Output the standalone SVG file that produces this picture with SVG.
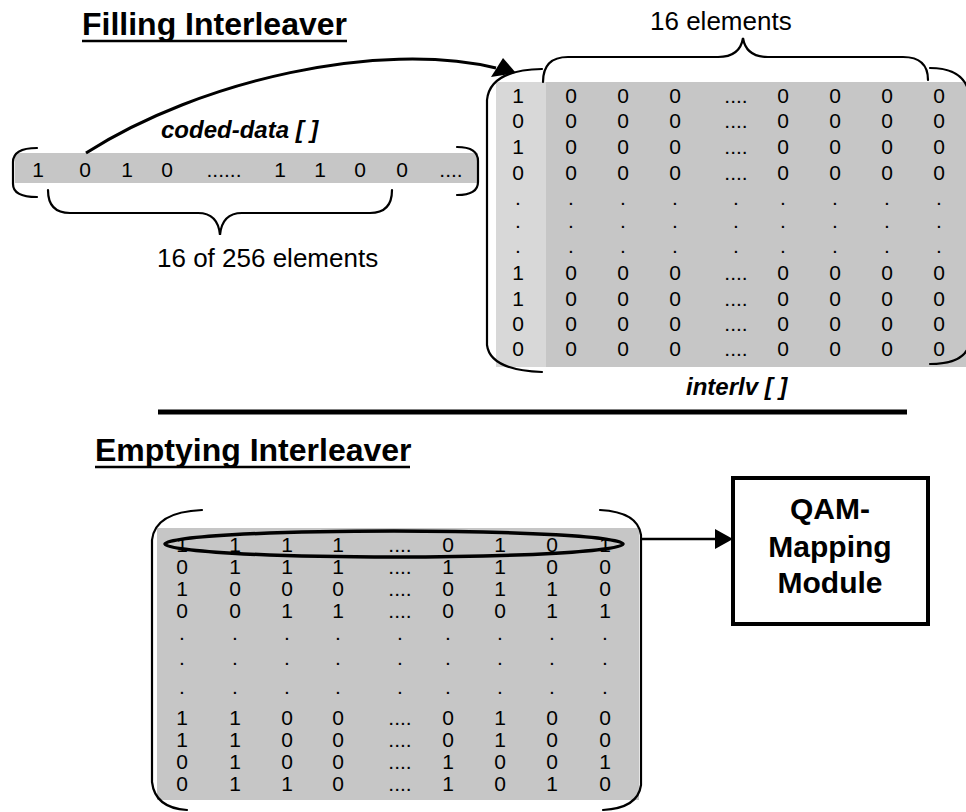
<svg xmlns="http://www.w3.org/2000/svg" width="966" height="812" viewBox="0 0 966 812">
  <style>
    .title { font-family: "Liberation Sans", Arial, sans-serif; font-weight: bold; font-size: 32px; fill: #000; }
    .label { font-family: "Liberation Sans", Arial, sans-serif; font-size: 26px; fill: #000; }
    .name { font-family: "Liberation Sans", Arial, sans-serif; font-weight: bold; font-style: italic; font-size: 24px; fill: #000; }
    .d { font-family: "Liberation Sans", Arial, sans-serif; font-size: 21px; fill: #000; text-anchor: middle; }
    .box { font-family: "Liberation Sans", Arial, sans-serif; font-weight: bold; font-size: 30px; fill: #000; text-anchor: middle; }
    .br { fill: none; stroke: #000; stroke-width: 2.2; stroke-linecap: round; }
    .ul { stroke: #000; stroke-width: 2.5; }
    .cell { fill: #c6c6c6; }
    .cell-lt { fill: #d8d8d8; }
  </style>

  <!-- section heading: filling -->
  <g id="title-filling">
    <text class="title" x="82" y="35">Filling Interleaver</text>
    <line class="ul" x1="82" y1="41" x2="347" y2="41"/>
  </g>

  <!-- one-dimensional coded data array -->
  <g id="coded-data">
    <rect class="cell" x="15" y="153" width="463" height="30"/>
    <path class="br" d="M37,148 Q13,148 13,162 L13,184 Q13,197 37,197"/>
    <path class="br" d="M457,147 Q478,147 478,161 L478,182 Q478,195 457,195"/>
    <text class="d" y="177"><tspan x="38">1</tspan><tspan x="85">0</tspan><tspan x="127">1</tspan><tspan x="167">0</tspan><tspan x="224">......</tspan><tspan x="280">1</tspan><tspan x="320">1</tspan><tspan x="360">0</tspan><tspan x="402">0</tspan><tspan x="451">....</tspan></text>
    <text class="name" x="161" y="138">coded-data [ ]</text>
  </g>

  <!-- brace grouping the first sixteen entries -->
  <g id="brace-256">
    <path class="br" d="M48,190 Q48,213 70,213 L198,213 Q218,213 220,235 Q222,213 242,213 L370,213 Q392,213 392,190"/>
    <text class="label" x="157" y="267">16 of 256 elements</text>
  </g>

  <!-- interleaver matrix while filling -->
  <g id="interlv-fill">
    <rect class="cell-lt" x="496" y="82" width="50" height="285"/>
    <rect class="cell" x="546" y="82" width="420" height="285"/>
    <path class="br" d="M542,69 Q490,70 487,100 L487,345 Q490,370 542,372"/>
    <path class="br" d="M930,68 Q968,68 970,100 L970,340 Q968,364 930,364"/>
    <text class="d" y="103"><tspan x="518">1</tspan><tspan x="571">0</tspan><tspan x="623">0</tspan><tspan x="675">0</tspan><tspan x="736">....</tspan><tspan x="783">0</tspan><tspan x="835">0</tspan><tspan x="887">0</tspan><tspan x="939">0</tspan></text>
    <text class="d" y="128"><tspan x="518">0</tspan><tspan x="571">0</tspan><tspan x="623">0</tspan><tspan x="675">0</tspan><tspan x="736">....</tspan><tspan x="783">0</tspan><tspan x="835">0</tspan><tspan x="887">0</tspan><tspan x="939">0</tspan></text>
    <text class="d" y="154"><tspan x="518">1</tspan><tspan x="571">0</tspan><tspan x="623">0</tspan><tspan x="675">0</tspan><tspan x="736">....</tspan><tspan x="783">0</tspan><tspan x="835">0</tspan><tspan x="887">0</tspan><tspan x="939">0</tspan></text>
    <text class="d" y="180"><tspan x="518">0</tspan><tspan x="571">0</tspan><tspan x="623">0</tspan><tspan x="675">0</tspan><tspan x="736">....</tspan><tspan x="783">0</tspan><tspan x="835">0</tspan><tspan x="887">0</tspan><tspan x="939">0</tspan></text>
    <text class="d" y="205"><tspan x="518">.</tspan><tspan x="571">.</tspan><tspan x="623">.</tspan><tspan x="675">.</tspan><tspan x="736">.</tspan><tspan x="783">.</tspan><tspan x="835">.</tspan><tspan x="887">.</tspan><tspan x="939">.</tspan></text>
    <text class="d" y="228"><tspan x="518">.</tspan><tspan x="571">.</tspan><tspan x="623">.</tspan><tspan x="675">.</tspan><tspan x="736">.</tspan><tspan x="783">.</tspan><tspan x="835">.</tspan><tspan x="887">.</tspan><tspan x="939">.</tspan></text>
    <text class="d" y="253"><tspan x="518">.</tspan><tspan x="571">.</tspan><tspan x="623">.</tspan><tspan x="675">.</tspan><tspan x="736">.</tspan><tspan x="783">.</tspan><tspan x="835">.</tspan><tspan x="887">.</tspan><tspan x="939">.</tspan></text>
    <text class="d" y="280"><tspan x="518">1</tspan><tspan x="571">0</tspan><tspan x="623">0</tspan><tspan x="675">0</tspan><tspan x="736">....</tspan><tspan x="783">0</tspan><tspan x="835">0</tspan><tspan x="887">0</tspan><tspan x="939">0</tspan></text>
    <text class="d" y="306"><tspan x="518">1</tspan><tspan x="571">0</tspan><tspan x="623">0</tspan><tspan x="675">0</tspan><tspan x="736">....</tspan><tspan x="783">0</tspan><tspan x="835">0</tspan><tspan x="887">0</tspan><tspan x="939">0</tspan></text>
    <text class="d" y="331"><tspan x="518">0</tspan><tspan x="571">0</tspan><tspan x="623">0</tspan><tspan x="675">0</tspan><tspan x="736">....</tspan><tspan x="783">0</tspan><tspan x="835">0</tspan><tspan x="887">0</tspan><tspan x="939">0</tspan></text>
    <text class="d" y="356"><tspan x="518">0</tspan><tspan x="571">0</tspan><tspan x="623">0</tspan><tspan x="675">0</tspan><tspan x="736">....</tspan><tspan x="783">0</tspan><tspan x="835">0</tspan><tspan x="887">0</tspan><tspan x="939">0</tspan></text>
    <text class="name" x="686" y="395" font-size="25">interlv [ ]</text>
  </g>

  <!-- brace over the sixteen columns -->
  <g id="brace-16">
    <path class="br" d="M543,82 Q543,57 568,57 L718,57 Q740,57 743,38 Q746,57 768,57 L903,57 Q928,57 928,80"/>
    <text class="label" x="650" y="30">16 elements</text>
  </g>

  <!-- divider between the two stages -->
  <g id="divider">
    <line x1="158" y1="412" x2="907" y2="412" stroke="#000" stroke-width="5"/>
  </g>

  <!-- section heading: emptying -->
  <g id="title-emptying">
    <text class="title" x="95" y="461">Emptying Interleaver</text>
    <line class="ul" x1="95" y1="467" x2="410" y2="467"/>
  </g>

  <!-- interleaver matrix while emptying -->
  <g id="interlv-empty">
    <rect class="cell" x="157" y="528" width="482" height="272"/>
    <path class="br" d="M202,510 Q155,512 152,540 L152,782 Q155,808 187,810"/>
    <path class="br" d="M600,510 Q638,512 641,535 L641,785 Q638,808 603,810"/>
    <text class="d" y="552"><tspan x="182">1</tspan><tspan x="235">1</tspan><tspan x="287">1</tspan><tspan x="338">1</tspan><tspan x="400">....</tspan><tspan x="448">0</tspan><tspan x="500">1</tspan><tspan x="552">0</tspan><tspan x="605">1</tspan></text>
    <text class="d" y="574"><tspan x="182">0</tspan><tspan x="235">1</tspan><tspan x="287">1</tspan><tspan x="338">1</tspan><tspan x="400">....</tspan><tspan x="448">1</tspan><tspan x="500">1</tspan><tspan x="552">0</tspan><tspan x="605">0</tspan></text>
    <text class="d" y="596"><tspan x="182">1</tspan><tspan x="235">0</tspan><tspan x="287">0</tspan><tspan x="338">0</tspan><tspan x="400">....</tspan><tspan x="448">0</tspan><tspan x="500">1</tspan><tspan x="552">1</tspan><tspan x="605">0</tspan></text>
    <text class="d" y="618"><tspan x="182">0</tspan><tspan x="235">0</tspan><tspan x="287">1</tspan><tspan x="338">1</tspan><tspan x="400">....</tspan><tspan x="448">0</tspan><tspan x="500">0</tspan><tspan x="552">1</tspan><tspan x="605">1</tspan></text>
    <text class="d" y="640"><tspan x="182">.</tspan><tspan x="235">.</tspan><tspan x="287">.</tspan><tspan x="338">.</tspan><tspan x="400">.</tspan><tspan x="448">.</tspan><tspan x="500">.</tspan><tspan x="552">.</tspan><tspan x="605">.</tspan></text>
    <text class="d" y="665"><tspan x="182">.</tspan><tspan x="235">.</tspan><tspan x="287">.</tspan><tspan x="338">.</tspan><tspan x="400">.</tspan><tspan x="448">.</tspan><tspan x="500">.</tspan><tspan x="552">.</tspan><tspan x="605">.</tspan></text>
    <text class="d" y="694"><tspan x="182">.</tspan><tspan x="235">.</tspan><tspan x="287">.</tspan><tspan x="338">.</tspan><tspan x="400">.</tspan><tspan x="448">.</tspan><tspan x="500">.</tspan><tspan x="552">.</tspan><tspan x="605">.</tspan></text>
    <text class="d" y="725"><tspan x="182">1</tspan><tspan x="235">1</tspan><tspan x="287">0</tspan><tspan x="338">0</tspan><tspan x="400">....</tspan><tspan x="448">0</tspan><tspan x="500">1</tspan><tspan x="552">0</tspan><tspan x="605">0</tspan></text>
    <text class="d" y="747"><tspan x="182">1</tspan><tspan x="235">1</tspan><tspan x="287">0</tspan><tspan x="338">0</tspan><tspan x="400">....</tspan><tspan x="448">0</tspan><tspan x="500">1</tspan><tspan x="552">0</tspan><tspan x="605">0</tspan></text>
    <text class="d" y="769"><tspan x="182">0</tspan><tspan x="235">1</tspan><tspan x="287">0</tspan><tspan x="338">0</tspan><tspan x="400">....</tspan><tspan x="448">1</tspan><tspan x="500">0</tspan><tspan x="552">0</tspan><tspan x="605">1</tspan></text>
    <text class="d" y="791"><tspan x="182">0</tspan><tspan x="235">1</tspan><tspan x="287">1</tspan><tspan x="338">0</tspan><tspan x="400">....</tspan><tspan x="448">1</tspan><tspan x="500">0</tspan><tspan x="552">1</tspan><tspan x="605">0</tspan></text>
    <!-- first row being read out -->
    <ellipse cx="394" cy="544" rx="229" ry="13" fill="none" stroke="#000" stroke-width="3.5"/>
  </g>

  <!-- destination block -->
  <g id="qam-mapping">
    <rect x="733" y="478" width="195" height="146" fill="#fff" stroke="#000" stroke-width="4"/>
    <text class="box" x="830" y="519">QAM-</text>
    <text class="box" x="830" y="557">Mapping</text>
    <text class="box" x="830" y="593">Module</text>
  </g>

  <!-- arrows -->
  <g id="connectors">
    <path d="M86,153 C200,80 380,40 496,68" fill="none" stroke="#000" stroke-width="3"/>
    <polygon points="503,58 491,77 516,73" fill="#000"/>
    <line x1="642" y1="539" x2="716" y2="539" stroke="#000" stroke-width="2.5"/>
    <polygon points="715,529 733,539 715,549" fill="#000"/>
  </g>
</svg>
